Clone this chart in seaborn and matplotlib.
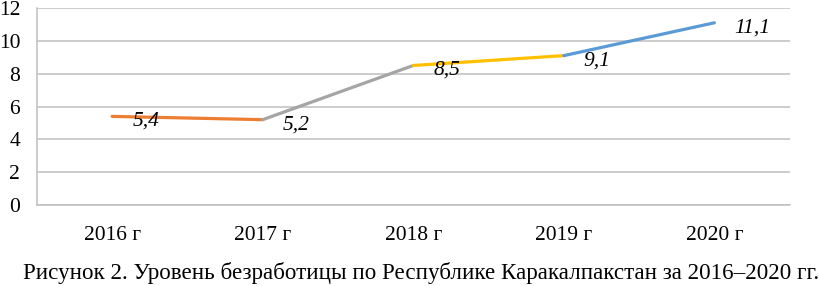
import pandas as pd
import numpy as np
import seaborn as sns
import matplotlib.pyplot as plt

# Данные
years = ["2016 г", "2017 г", "2018 г", "2019 г", "2020 г"]
values = [5.4, 5.2, 8.5, 9.1, 11.1]
labels = ["5,4", "5,2", "8,5", "9,1", "11,1"]
segment_colors = ["#ED7D31", "#A5A5A5", "#FFC000", "#5B9BD5"]
caption = "Рисунок 2. Уровень безработицы по Республике Каракалпакстан за 2016–2020 гг."

# Каждый отрезок линии - своя группа (свой цвет)
rows = []
for i in range(len(values) - 1):
    for j in (i, i + 1):
        rows.append({"pos": j, "value": values[j], "segment": f"s{i}"})
df = pd.DataFrame(rows)

sns.set_theme(style="white")
plt.rcParams['font.family'] = ['Liberation Serif', 'DejaVu Serif']
plt.rcParams['text.color'] = 'black'

fig = plt.figure(figsize=(8.2, 2.86), dpi=100)
ax = fig.add_axes([0.045, 0.283, 0.918, 0.689])

sns.lineplot(data=df, x="pos", y="value", hue="segment",
             palette=segment_colors, linewidth=2.3, legend=False, ax=ax)

# Подписи значений
for i, (v, lab) in enumerate(zip(values, labels)):
    ax.annotate(lab, (i, v), xytext=(20, -5), textcoords="offset pixels",
                ha="left", va="center", fontsize=15.5, fontstyle="italic",
                color="black")

ax.set_xlim(-0.5, len(years) - 0.5)
ax.set_ylim(0, 12)
ax.set_yticks(range(0, 13, 2))
ax.set_xticks(range(len(years)))
ax.set_xticklabels(years)
ax.set_xlabel("")
ax.set_ylabel("")
ax.yaxis.grid(True, color="#BFBFBF", linewidth=1.1)
ax.xaxis.grid(False)
ax.tick_params(axis="both", length=0, labelsize=15.5, colors="black")
ax.tick_params(axis="y", pad=12)
ax.tick_params(axis="x", pad=15)

for side in ["top", "right"]:
    ax.spines[side].set_visible(False)
for side in ["left", "bottom"]:
    ax.spines[side].set_color("#BFBFBF")
    ax.spines[side].set_linewidth(1.1)

fig.text(0.513, 0.047, caption, ha="center", va="center", fontsize=16.6,
         color="black")

fig.savefig("out.png", dpi=100)
